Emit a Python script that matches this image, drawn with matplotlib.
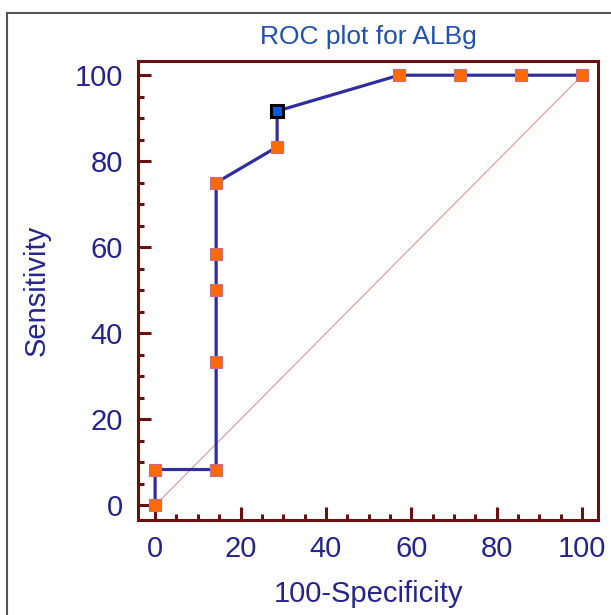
import matplotlib.pyplot as plt
from matplotlib.patches import Rectangle
from matplotlib.ticker import MultipleLocator

# ROC points (100-Specificity, Sensitivity)
fpr = [0, 0, 14.29, 14.29, 14.29, 14.29, 14.29, 28.57, 28.57, 57.14, 71.43, 85.71, 100]
sens = [0, 8.33, 8.33, 33.33, 50.0, 58.33, 75.0, 83.33, 91.67, 100, 100, 100, 100]
best_idx = 8  # optimal criterion point

plt.rcParams['font.family'] = ['Liberation Sans', 'DejaVu Sans']

fig = plt.figure(figsize=(6.11, 6.15), dpi=100)
ax = fig.add_axes([0.2259, 0.1545, 0.7528, 0.7463])

spine_col = '#6B1010'
text_col = '#24248E'

# diagonal reference line
ax.plot([0, 100], [0, 100], color='#D49A9A', linewidth=0.8, zorder=1)

# ROC curve
ax.plot(fpr, sens, color='#2E2E9E', linewidth=2.3, zorder=2)
ax.plot(fpr, sens, linestyle='none', marker='s', markersize=8,
        markerfacecolor='#FF6A00', markeredgecolor='#C86A8A', markeredgewidth=0.8, zorder=3)
ax.plot(fpr[best_idx], sens[best_idx], linestyle='none', marker='s', markersize=8.5,
        markerfacecolor='#0A5AE0', markeredgecolor='black', markeredgewidth=2.2, zorder=4)

ax.set_xlim(-4, 103.7)
ax.set_ylim(-3.4, 103.3)
ax.xaxis.set_major_locator(MultipleLocator(20))
ax.xaxis.set_minor_locator(MultipleLocator(5))
ax.yaxis.set_major_locator(MultipleLocator(20))
ax.yaxis.set_minor_locator(MultipleLocator(5))

for s in ax.spines.values():
    s.set_color(spine_col)
    s.set_linewidth(2.2)

ax.tick_params(which='both', direction='in', color=spine_col, width=2.2,
               top=False, right=False, labelsize=21, labelcolor=text_col)
ax.tick_params(which='major', length=9.5)
ax.tick_params(which='minor', length=4.5)
ax.tick_params(axis='y', which='major', pad=11)
ax.tick_params(axis='x', which='major', pad=11)

ax.set_xlabel('100-Specificity', fontsize=21, color=text_col, labelpad=12)
ax.set_ylabel('Sensitivity', fontsize=21, color=text_col, labelpad=17)
ax.set_title('ROC plot for ALBg', fontsize=19, color='#2050B0', pad=12)

# outer frame of the figure
fig.patches.append(Rectangle((7 / 611, -0.1), 1.2, 1 - 13 / 615 + 0.1,
                             transform=fig.transFigure, fill=False,
                             edgecolor='#555555', linewidth=1.5))

plt.savefig('out.png', dpi=100)
